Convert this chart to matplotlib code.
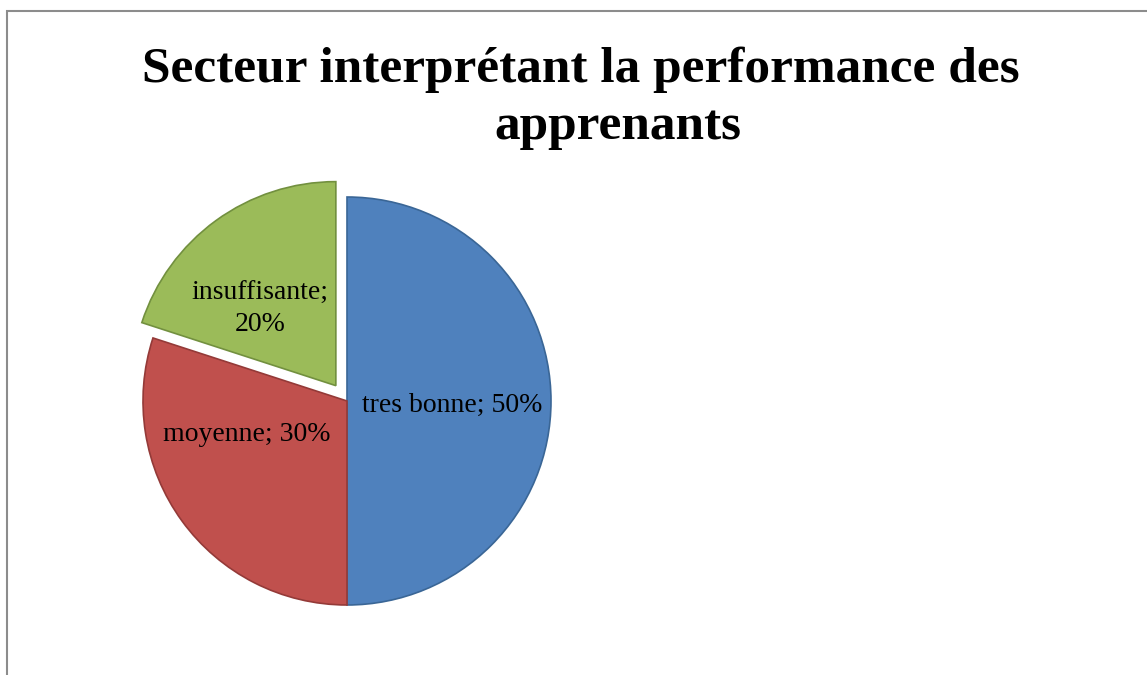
import matplotlib
matplotlib.use("Agg")
import matplotlib.pyplot as plt
from matplotlib.patches import Rectangle

categories = ["tres bonne", "moyenne", "insuffisante"]
values = [50, 30, 20]
label_texts = ["tres bonne; 50%", "moyenne; 30%", "insuffisante;\n20%"]
title_lines = ["Secteur interprétant la performance des", "apprenants"]

colors = ["#4F81BD", "#C0504D", "#9BBB59"]
edges = ["#3A6696", "#943A38", "#72903F"]
explode = [0, 0, 0.093]

W, H = 1147, 675
fig = plt.figure(figsize=(W / 100, H / 100), dpi=100)
fig.patch.set_facecolor("white")

# outer frame
fig.add_artist(Rectangle((7 / W, -0.1), 1.2, (H - 11) / H + 0.1, transform=fig.transFigure,
                         fill=False, edgecolor="#8C8C8C", linewidth=1.5))

cx, cy, r = 347, 401, 204
half = 250
ax = fig.add_axes([(cx - half) / W, (H - cy - half) / H, 2 * half / W, 2 * half / H])
lim = half / r
ax.set_xlim(-lim, lim)
ax.set_ylim(-lim, lim)
ax.set_aspect("equal")
ax.axis("off")

wedges, texts = ax.pie(values, colors=colors, startangle=90, counterclock=False,
                       explode=explode, labels=label_texts, labeldistance=0.52,
                       wedgeprops=dict(linewidth=1.2), radius=1, frame=False,
                       textprops=dict(fontsize=20, family="Liberation Serif", color="black"))
ax.set_xlim(-lim, lim)
ax.set_ylim(-lim, lim)
for w, ec in zip(wedges, edges):
    w.set_edgecolor(ec)
for t in texts:
    t.set_ha("center")
    t.set_va("center")
    t.set_multialignment("center")
texts[2].set_linespacing(1.3)
texts[0].set_position((0.515, -0.02))
texts[1].set_position((-0.49, -0.165))
texts[2].set_position((-0.425, 0.45))

fig.text(581 / W, 1 - 70 / H, title_lines[0], ha="center", va="center",
         fontsize=37, fontweight="bold", family="Liberation Serif")
fig.text(618 / W, 1 - 127 / H, title_lines[1], ha="center", va="center",
         fontsize=37, fontweight="bold", family="Liberation Serif")

fig.savefig("out.png", dpi=100)
